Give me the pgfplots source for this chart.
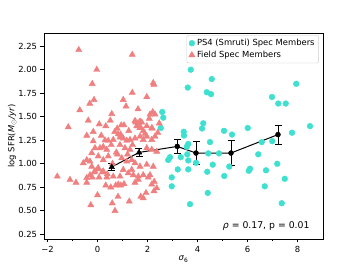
\documentclass[border=0pt]{standalone}
\usepackage{pgfplots}
\pgfplotsset{compat=1.18}
\usepackage{fontspec}
\setmainfont{DejaVu Sans}
\definecolor{fieldred}{RGB}{240,128,128}
\definecolor{psturq}{RGB}{64,224,208}
\begin{document}
\begin{tikzpicture}
\begin{axis}[
  scale only axis,
  width=279pt, height=206pt,
  xmin=-2.14, xmax=9.02,
  ymin=0.20, ymax=2.39,
  font=\fontsize{8.4}{10}\selectfont,
  xtick={-2,0,2,4,6,8},
  xticklabels={−2,0,2,4,6,8},
  minor xtick={-1,1,3,5,7},
  ytick={0.25,0.5,0.75,1,1.25,1.5,1.75,2,2.25},
  yticklabels={0.25,0.50,0.75,1.00,1.25,1.50,1.75,2.00,2.25},
  tick align=outside,
  tick pos=left,
  major tick length=3.5pt,
  minor tick length=2pt,
  tick style={black, line width=0.6pt},
  axis line style={line width=0.6pt},
  xlabel={\textit{σ}\textsubscript{6}},
  ylabel={log SFR(\textit{M}$_{\odot}$\textit{/yr})},
  xlabel style={yshift=3pt},
  ylabel style={yshift=-5pt},
  legend style={at={(rel axis cs:0.985,0.99)}, anchor=north east, draw=black!20, rounded corners=2pt, font=\fontsize{8.4}{10}\selectfont, row sep=0pt, inner sep=2pt},
  legend cell align=left,
]
\addplot[only marks, mark=*, mark size=2.9pt, draw=none, fill=psturq, color=psturq] coordinates {
(3.73,2.00) (4.57,1.90) (3.61,1.81) (4.37,1.76) (4.54,1.74) (2.59,1.55) (2.63,1.49) (2.53,1.38)
(4.23,1.43) (4.18,1.375) (3.45,1.34) (3.46,1.30) (5.06,1.35) (5.38,1.31) (7.95,1.85) (6.98,1.71)
(7.23,1.64) (7.53,1.64) (6.01,1.38) (8.5,1.40) (7.78,1.33) (4.5,1.23) (3.63,1.21) (3.57,1.18)
(6.57,1.23) (6.99,1.24) (2.9,1.07) (2.83,1.04) (3.33,1.07) (3.59,1.10) (4.43,1.11) (4.86,1.11)
(3.63,1.035) (6.43,1.10) (4.61,0.99) (3.94,1.01) (7.19,1.00) (3.21,0.94) (3.63,0.94) (4.39,0.915)
(5.27,0.97) (6.05,0.925) (6.1,0.947) (6.74,0.93) (2.97,0.855) (5.07,0.87) (7.49,0.84) (2.97,0.76)
(6.69,0.76) (7.37,0.58) (4.41,0.69) (3.7,0.57)
};
\addlegendentry{PS4 (Smruti) Spec Members}
\addplot[only marks, mark=triangle*, mark size=3.6pt, draw=none, fill=fieldred, color=fieldred] coordinates {
(-0.75,2.21) (1.39,2.16) (-0.03,2.00) (-0.21,1.85) (1.39,1.755) (2.23,1.86) (2.25,1.84)
(-0.14,1.68) (-0.31,1.64) (1.03,1.68) (1.14,1.61) (-0.71,1.57) (1.62,1.58) (1.97,1.71) (0.57,1.53)
(-0.37,1.46) (0.51,1.46) (0.07,1.42) (0.33,1.40) (0.95,1.41) (1.06,1.41) (-1.17,1.39) (1.53,1.44)
(1.57,1.40) (0.79,1.375) (-0.17,1.34) (0.69,1.34) (0.93,1.31) (-0.43,1.30) (1.69,1.38)
(2.21,1.55) (2.1,1.525) (2.3,1.525) (2.07,1.48) (2.47,1.43) (1.7,1.45) (1.77,1.44) (2.19,1.375)
(1.83,1.35) (1.9,1.32) (2.41,1.33) (1.5,1.457) (1.63,1.433) (1.74,1.38) (1.97,1.40) (2.17,1.38)
(0.83,1.315) (0.9,1.28) (-0.17,1.24) (0.43,1.245) (0.63,1.255) (1.03,1.27) (1.17,1.245) (1.3,1.255)
(1.5,1.27) (1.7,1.29) (1.83,1.255) (1.97,1.29) (2.17,1.255) (2.3,1.29)
(0.23,1.18) (0.1,1.167) (0.37,1.15) (0.9,1.2) (1.1,1.167) (1.3,1.15) (-0.1,1.167) (-0.23,1.114)
(1.97,1.167) (2.17,1.15) (2.37,1.13)
(-0.43,1.04) (-0.57,1.007) (-0.3,1.025) (0.03,1.08) (0.23,1.04) (0.43,1.08) (0.97,1.06) (1.17,1.025)
(1.37,1.04) (1.5,1.007) (1.7,0.97) (1.97,0.99) (2.23,0.97)
(0.03,0.955) (0.23,0.92) (-0.1,0.92) (1.03,0.936) (1.23,0.9) (1.37,0.936) (-0.3,0.88) (-0.43,0.85)
(1.43,0.88) (1.63,0.865) (1.83,0.88) (2.1,0.88) (0.37,0.855) (0.63,0.865) (0.9,0.865)
(-1.61,0.865) (-1.1,0.83) (-0.86,0.80) (-0.43,0.80) (-0.21,0.855) (-0.14,0.91) (0,0.944)
(0.33,0.77) (0.53,0.75) (0.73,0.77) (0.93,0.77) (0,0.667) (0.82,0.65) (1.27,0.60) (-0.27,0.56)
(0.59,0.58) (0.7,0.50) (0.19,0.91) (0.39,0.89) (0.06,0.855)
(1.73,0.65) (1.94,0.69) (1.83,0.635) (2.26,0.71) (2.37,0.74) (2.27,0.81) (2.17,0.78) (2.03,0.855)
(1.5,0.80) (1.63,0.83) (1.06,0.785) (0.83,0.78) (-0.23,0.97)
(0.6,1.0) (0.8,1.1) (1.2,1.1) (0.55,1.2) (0.75,1.12) (1.4,1.2) (0.15,1.3) (0.3,1.25) (1.25,1.35)
};
\addlegendentry{Field Spec Members}
\addplot[black, line width=1pt, no marks, forget plot,
  error bars/.cd, y dir=both, y explicit,
  error bar style={line width=0.9pt, black},
  error mark options={rotate=90, mark size=3.5pt, line width=0.9pt, black}]
  coordinates {
  (0.57,0.965) +- (0,0.035)
  (1.66,1.12) +- (0,0.04)
  (3.19,1.184) +- (0,0.078)
  (3.94,1.114) +- (0,0.126)
  (5.34,1.114) +- (0,0.13)
  (7.22,1.31) +- (0,0.10)
};
\addplot[only marks, mark=triangle*, mark size=3.2pt, black, forget plot] coordinates {(0.57,0.965) (1.66,1.12)};
\addplot[only marks, mark=*, mark size=2.5pt, black, forget plot] coordinates {(3.19,1.184) (3.94,1.114) (5.34,1.114) (7.22,1.31)};
\node[anchor=east, font=\fontsize{9.3}{11}\selectfont] at (axis cs:8.62,0.34) {\textit{ρ} = 0.17, p = 0.01};
\end{axis}
\path ([xshift=-44pt,yshift=-30pt]current axis.south west) rectangle ([xshift=36pt,yshift=33pt]current axis.north east);
\end{tikzpicture}
\end{document}
